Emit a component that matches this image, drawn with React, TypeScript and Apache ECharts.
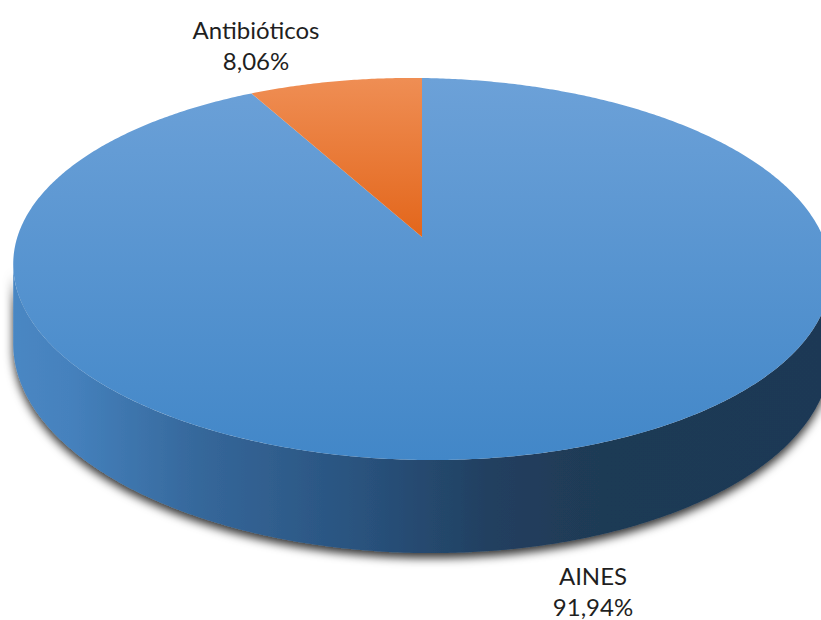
import React, { useEffect, useRef } from 'react';
import * as echarts from 'echarts';

// ---- data ----
const categories: string[] = ['AINES', 'Antibióticos'];
const values: number[] = [91.94, 8.06];

// ---- layout / style (not data) ----
const CX = 422; // apex of the pie on screen
const CY = 237;
const RX = 403; // horizontal scale
const RY = 185.6; // vertical scale
const PERSP = 0.1675; // perspective strength
const DEPTH = 77.5; // wall height
const TILT = 0.012;
const topColors: string[][] = [
  ['#6ca1d8', '#4287c8'],
  ['#ef8e54', '#e3661b'],
];
const wallGradients: [number, string][][] = [
  [
    [0, '#4a87c3'],
    [0.07, '#4581bd'],
    [0.23, '#35679a'],
    [0.41, '#2a5480'],
    [0.59, '#213f5f'],
    [0.72, '#1f3a55'],
    [1, '#1e3954'],
  ],
  [
    [0, '#e3691f'],
    [1, '#8a4214'],
  ],
];
const labelAnchors: number[][] = [
  [593, 591],
  [256, 45],
];

const total = values.reduce((a, b) => a + b, 0);
const startAngles: number[] = [];
{
  let acc = 0;
  for (let i = 0; i < values.length; i++) {
    startAngles.push((acc / total) * Math.PI * 2);
    acc += values[i];
  }
}

function project(phi: number, bottom: boolean): number[] {
  const u = Math.sin(phi);
  const v = -Math.cos(phi);
  const w = 1 - PERSP * v;
  const x = CX + (RX * u) / w;
  const y = CY + (RY * v + (bottom ? DEPTH : 0)) / w + TILT * (x - CX);
  return [x, y];
}

function arc(a0: number, a1: number, bottom: boolean): number[][] {
  const pts: number[][] = [];
  const n = Math.max(2, Math.ceil(Math.abs(a1 - a0) / (Math.PI / 360)));
  for (let j = 0; j <= n; j++) {
    pts.push(project(a0 + ((a1 - a0) * j) / n, bottom));
  }
  return pts;
}

const visA = Math.acos(-PERSP);
const visB = Math.PI * 2 - visA;

export default function App() {
  const ref = useRef<HTMLDivElement>(null);
  useEffect(() => {
    if (!ref.current) return;
    const chart = echarts.init(ref.current, null, { renderer: 'svg' });
    const data = values.map((v, i) => ({ name: categories[i], value: v }));
    chart.setOption({
      animation: false,
      backgroundColor: '#ffffff',
      series: [
        {
          type: 'custom',
          coordinateSystem: 'none',
          silent: true,
          z: 1,
          data,
          renderItem: (params: any, api: any) => {
            const i = params.dataIndex;
            const v = api.value(0);
            const a0 = startAngles[i];
            const a1 = a0 + (v / total) * Math.PI * 2;
            const s = Math.max(a0, visA);
            const e = Math.min(a1, visB);
            if (e <= s) return { type: 'group', children: [] };
            const top = arc(s, e, false);
            const bot = arc(s, e, true).reverse();
            return {
              type: 'polygon',
              shape: { points: top.concat(bot) },
              style: {
                fill: new echarts.graphic.LinearGradient(
                  0,
                  0,
                  1,
                  0,
                  wallGradients[i].map(([o, c]) => ({ offset: o, color: c }))
                ),
                shadowBlur: 10,
                shadowColor: 'rgba(0,0,0,0.8)',
                shadowOffsetX: 0,
                shadowOffsetY: 5,
              },
            };
          },
        },
        {
          type: 'custom',
          coordinateSystem: 'none',
          silent: true,
          z: 2,
          data,
          renderItem: (params: any, api: any) => {
            const i = params.dataIndex;
            const v = api.value(0);
            const a0 = startAngles[i];
            const a1 = a0 + (v / total) * Math.PI * 2;
            const pts = [[CX, CY]].concat(arc(a0, a1, false));
            const pct = ((v / total) * 100).toFixed(2).replace('.', ',') + '%';
            return {
              type: 'group',
              children: [
                {
                  type: 'polygon',
                  shape: { points: pts },
                  style: {
                    fill: new echarts.graphic.LinearGradient(0, 0, 0, 1, [
                      { offset: 0, color: topColors[i][0] },
                      { offset: 1, color: topColors[i][1] },
                    ]),
                  },
                },
                {
                  type: 'text',
                  x: labelAnchors[i][0],
                  y: labelAnchors[i][1],
                  style: {
                    text: categories[i] + '\n' + pct,
                    fontFamily: 'Lato',
                    fontSize: 24,
                    lineHeight: 31,
                    fill: '#1f1f1f',
                    align: 'center',
                    verticalAlign: 'middle',
                  },
                },
              ],
            };
          },
        },
      ],
    });
    return () => chart.dispose();
  }, []);
  return (
    <div
      ref={ref}
      style={{ position: 'absolute', left: 0, top: 0, width: 821, height: 620 }}
    />
  );
}
